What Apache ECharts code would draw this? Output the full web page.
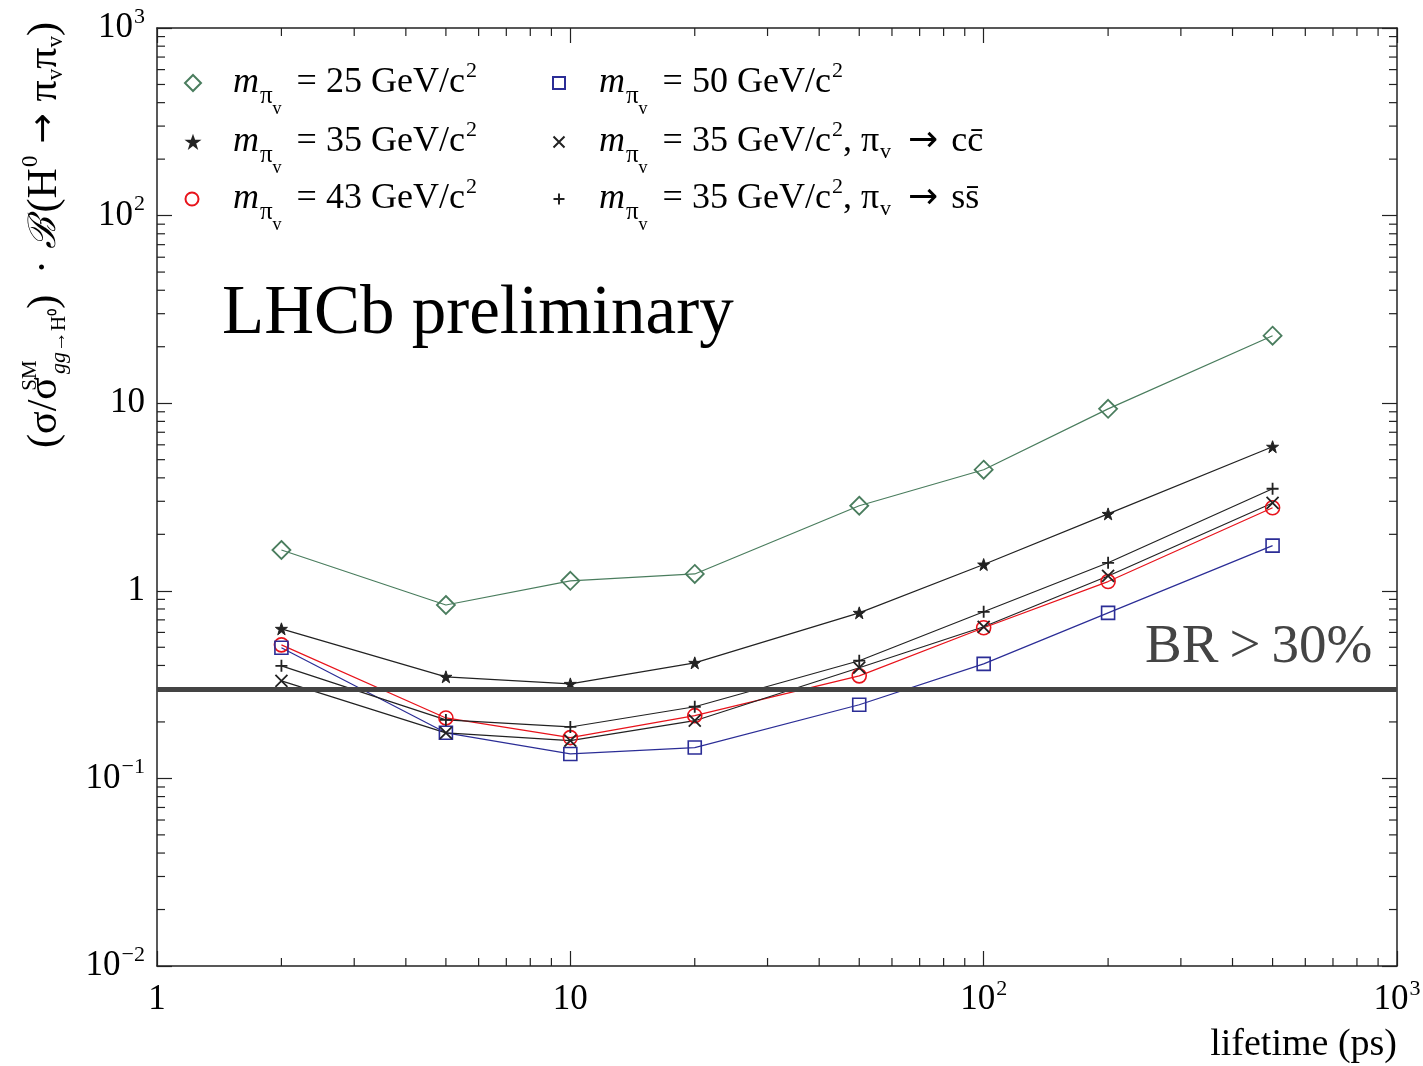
<!DOCTYPE html>
<html><head><meta charset="utf-8">
<script src="https://cdn.jsdelivr.net/npm/echarts@6/dist/echarts.min.js"></script>
<style>html,body{margin:0;padding:0;background:#fff}#c{width:1423px;height:1066px}</style>
</head><body><div id="c"></div>
<script>
// ---- data ----
const lifetimes = [2, 5, 10, 20, 50, 100, 200, 500];          // ps
const m25   = [1.65, 0.84, 1.13, 1.23, 2.84, 4.42, 9.33, 22.9];
const m35   = [0.627, 0.348, 0.319, 0.413, 0.763, 1.38, 2.57, 5.86];
const m43   = [0.515, 0.210, 0.165, 0.216, 0.352, 0.635, 1.12, 2.77];
const m50   = [0.497, 0.175, 0.135, 0.146, 0.247, 0.408, 0.763, 1.74];
const m35cc = [0.331, 0.175, 0.159, 0.203, 0.389, 0.643, 1.20, 2.94];
const m35ss = [0.398, 0.205, 0.188, 0.241, 0.424, 0.773, 1.41, 3.50];
const brLimit = 0.3;
const xTickLabels = ['1', '10', '10{sup|2}', '10{sup|3}'];                         // exponents 0..3
const yTickLabels = ['10{sup|\u22122}', '10{sup|\u22121}', '1', '10', '10{sup|2}', '10{sup|3}']; // exponents -2..3
const X_MIN = 1, X_MAX = 1000, Y_MIN = 0.01, Y_MAX = 1000;

// ---- styling ----
const SERIF = 'Liberation Serif';
const INK = '#222';
const STAR = 'path://M6,0 L7.4,4.1 L11.7,4.1 L8.2,6.7 L9.5,10.9 L6,8.3 L2.5,10.9 L3.8,6.7 L0.3,4.1 L4.6,4.1 Z';
const CROSS = 'path://M0,0 L12,12 M12,0 L0,12';
const PLUS = 'path://M6,0 L6,12 M0,6 L12,6';

const MPI = '{m|m}{s1|\u03c0}{s2|v}';
const defs = [
  {key:'m25', values:m25, color:'#4a7d5e', symbol:'diamond', size:18, fill:'rgba(0,0,0,0)', bw:1.8,
   label:MPI + '{eq| = 25 GeV/c}{sup|2}', lx:192, ly:80, iw:16},
  {key:'m35', values:m35, color:INK, symbol:STAR, size:12, fill:INK, bw:1,
   label:MPI + '{eq| = 35 GeV/c}{sup|2}', lx:192, ly:139, iw:11},
  {key:'m43', values:m43, color:'#e8131b', symbol:'circle', size:14, fill:'rgba(0,0,0,0)', bw:1.6,
   label:MPI + '{eq| = 43 GeV/c}{sup|2}', lx:191, ly:196, iw:13},
  {key:'m50', values:m50, color:'#2b2d96', symbol:'rect', size:13, fill:'rgba(0,0,0,0)', bw:1.6,
   label:MPI + '{eq| = 50 GeV/c}{sup|2}', lx:558, ly:80, iw:12},
  {key:'m35cc', values:m35cc, color:INK, symbol:CROSS, size:12, fill:'rgba(0,0,0,0)', bw:1.8,
   label:MPI + '{eq| = 35 GeV/c}{sup|2}{t|, \u03c0}{s3|v}{arr|\u2192}{t|cc\u0304}', lx:558, ly:139, iw:11},
  {key:'m35ss', values:m35ss, color:INK, symbol:PLUS, size:12, fill:'rgba(0,0,0,0)', bw:1.8,
   label:MPI + '{eq| = 35 GeV/c}{sup|2}{t|, \u03c0}{s3|v}{arr|\u2192}{t|ss\u0304}', lx:558, ly:196, iw:11}
];

const L = 72; // legend rich line height
function legendRich(padLeft) {
  return {
    m:   {fontFamily:SERIF, fontStyle:'italic', fontSize:36, lineHeight:L, color:'#000', padding:[0,0,0,padLeft]},
    s1:  {fontFamily:SERIF, fontSize:25, verticalAlign:'bottom', color:'#000', padding:[0,0,10,1]},
    s2:  {fontFamily:SERIF, fontSize:18, verticalAlign:'bottom', color:'#000', padding:[0,0,1,0]},
    s3:  {fontFamily:SERIF, fontSize:22, verticalAlign:'bottom', color:'#000', padding:[0,0,15,1]},
    eq:  {fontFamily:SERIF, fontSize:36, lineHeight:L, color:'#000', padding:[0,0,0,6]},
    t:   {fontFamily:SERIF, fontSize:36, lineHeight:L, color:'#000'},
    arr: {fontFamily:'DejaVu Sans', fontSize:36, lineHeight:L, color:'#000', padding:[0,13,0,17]},
    sup: {fontFamily:SERIF, fontSize:22, verticalAlign:'top', color:'#000', padding:[13,0,0,1]}
  };
}

const textCol1 = 232, textCol2 = 598;
const legends = defs.map(d => {
  const textStart = d.lx < 400 ? textCol1 : textCol2;
  const left = d.lx - d.iw / 2;
  const pad = textStart - (left + d.iw + 5);
  return {
    show: true, selectedMode: false, orient: 'horizontal', padding: 0,
    left: left, top: d.ly - L / 2 + 16,
    itemWidth: d.iw, itemHeight: d.iw, itemGap: 0,
    data: [{name: d.key, icon: d.symbol}],
    formatter: () => d.label,
    textStyle: {rich: legendRich(pad)}
  };
});

const series = defs.map(d => ({
  type: 'line', name: d.key,
  data: lifetimes.map((x, i) => [x, d.values[i]]),
  symbol: d.symbol, symbolSize: d.size, showSymbol: true,
  lineStyle: {color: d.color, width: 1.2},
  itemStyle: {color: d.fill, borderColor: d.color, borderWidth: d.bw},
  emphasis: {disabled: true}, animation: false, z: 3
}));

series.push({
  type: 'line', name: 'br', data: [], silent: true, animation: false, z: 5,
  markLine: {
    symbol: 'none', silent: true, animation: false, label: {show: false},
    lineStyle: {color: '#444', width: 5, type: 'solid'},
    emphasis: {disabled: true},
    data: [{yAxis: brLimit}]
  }
});

// minor ticks (axis decoration) at 2..9 x each decade
const minorX = [], minorY = [];
for (let e = 0; e < 3; e++) for (let k = 2; k <= 9; k++) minorX.push(k * Math.pow(10, e));
for (let e = -2; e < 3; e++) for (let k = 2; k <= 9; k++) minorY.push(+(k * Math.pow(10, e)).toPrecision(3));
const MT = 8;
series.push({
  type: 'custom', silent: true, animation: false, z: 4,
  data: minorX.map(v => [v, 1]),
  renderItem: (p, api) => {
    const v = api.value(0);
    const b = api.coord([v, Y_MIN]), t = api.coord([v, Y_MAX]);
    const st = {stroke: INK, lineWidth: 1.2};
    return {type: 'group', children: [
      {type: 'line', shape: {x1: b[0], y1: b[1], x2: b[0], y2: b[1] - MT}, style: st},
      {type: 'line', shape: {x1: t[0], y1: t[1], x2: t[0], y2: t[1] + MT}, style: st}
    ]};
  }
});
series.push({
  type: 'custom', silent: true, animation: false, z: 4,
  data: minorY.map(v => [2, v]),
  renderItem: (p, api) => {
    const v = api.value(1);
    const l = api.coord([X_MIN, v]), r = api.coord([X_MAX, v]);
    const st = {stroke: INK, lineWidth: 1.2};
    return {type: 'group', children: [
      {type: 'line', shape: {x1: l[0], y1: l[1], x2: l[0] + MT, y2: l[1]}, style: st},
      {type: 'line', shape: {x1: r[0], y1: r[1], x2: r[0] - MT, y2: r[1]}, style: st}
    ]};
  }
});

const tickRich = {
  sup: {fontFamily: SERIF, fontSize: 22, verticalAlign: 'top', color: '#000', padding: [0, 0, 0, 1]}
};
function expOf(v) { return Math.round(Math.log10(v)); }

function xAxisDef(pos, showLabel) {
  return {
    type: 'log', logBase: 10, min: X_MIN, max: X_MAX, position: pos, gridIndex: 0,
    axisLine: {show: true, onZero: false, lineStyle: {color: INK, width: 1.5}},
    axisTick: {show: true, inside: true, length: 15, lineStyle: {color: INK, width: 1.2}},
    minorTick: {show: false}, splitLine: {show: false},
    axisLabel: {
      show: showLabel, margin: 12, showMinLabel: true, showMaxLabel: true,
      fontFamily: SERIF, fontSize: 35, color: '#000', lineHeight: 44,
      formatter: v => xTickLabels[expOf(v)], rich: tickRich
    }
  };
}
function yAxisDef(pos, showLabel) {
  return {
    type: 'log', logBase: 10, min: Y_MIN, max: Y_MAX, position: pos, gridIndex: 0,
    axisLine: {show: true, onZero: false, lineStyle: {color: INK, width: 1.5}},
    axisTick: {show: true, inside: true, length: 15, lineStyle: {color: INK, width: 1.2}},
    minorTick: {show: false}, splitLine: {show: false},
    axisLabel: {
      show: showLabel, margin: 12, showMinLabel: true, showMaxLabel: true,
      fontFamily: SERIF, fontSize: 35, color: '#000', lineHeight: 44,
      formatter: v => yTickLabels[expOf(v) + 2], rich: tickRich
    }
  };
}

const TL = 74;
const yTitleRich = {
  t:    {fontFamily: SERIF, fontSize: 42, lineHeight: TL, color: '#000'},
  supS: {fontFamily: SERIF, fontSize: 21, verticalAlign: 'top', color: '#000', width: 1, padding: [12, 0, 0, 1]},
  subI: {fontFamily: SERIF, fontStyle: 'italic', fontSize: 22, verticalAlign: 'bottom', color: '#000', padding: [0, 0, 12, 1]},
  subS: {fontFamily: SERIF, fontSize: 21, verticalAlign: 'bottom', color: '#000', padding: [0, 0, 12, 0]},
  B:    {fontFamily: 'DejaVu Serif', fontStyle: 'italic', fontSize: 38, lineHeight: TL, color: '#000', padding: [0, 5, 0, 0]},
  arr:  {fontFamily: 'DejaVu Sans', fontSize: 36, lineHeight: TL, color: '#000', padding: [0, 12, 0, 12]},
  sup:  {fontFamily: SERIF, fontSize: 23, verticalAlign: 'top', color: '#000', padding: [11, 0, 0, 1]},
  sub:  {fontFamily: SERIF, fontSize: 23, verticalAlign: 'bottom', color: '#000', padding: [0, 0, 15, 0]}
};
const yTitle = '{t|(\u03c3/\u03c3}{supS|SM}{subI|gg}{subS|\u2192H\u2070}{t|)  \u00b7 }{B|\u212c}{t|(H}{sup|0}{arr|\u2192}{t|\u03c0}{sub|v}{t|\u03c0}{sub|v}{t|)}';

const option = {
  backgroundColor: '#fff',
  animation: false,
  grid: {left: 157, right: 26, top: 28, bottom: 100, containLabel: false, outerBoundsMode: 'none'},
  xAxis: [xAxisDef('bottom', true), xAxisDef('top', false)],
  yAxis: [yAxisDef('left', true), yAxisDef('right', false)],
  legend: legends,
  series: series,
  graphic: [
    {type: 'text', x: 45, y: 235, rotation: Math.PI / 2, silent: true,
     style: {text: yTitle, rich: yTitleRich, align: 'center', verticalAlign: 'middle'}},
    {type: 'text', x: 1397, y: 1045, silent: true,
     style: {text: 'lifetime (ps)', fontFamily: SERIF, fontSize: 38, fill: '#000', align: 'right', verticalAlign: 'middle'}},
    {type: 'text', x: 222, y: 315, silent: true,
     style: {text: 'LHCb preliminary', fontFamily: SERIF, fontSize: 69, fill: '#000', align: 'left', verticalAlign: 'middle'}},
    {type: 'text', x: 1145, y: 648, silent: true,
     style: {text: 'BR\u2009>\u200930%', fontFamily: SERIF, fontSize: 55, fill: '#444', align: 'left', verticalAlign: 'middle'}}
  ]
};

const chart = echarts.init(document.getElementById('c'), null, {renderer: 'canvas'});
chart.setOption(option);
</script></body></html>
